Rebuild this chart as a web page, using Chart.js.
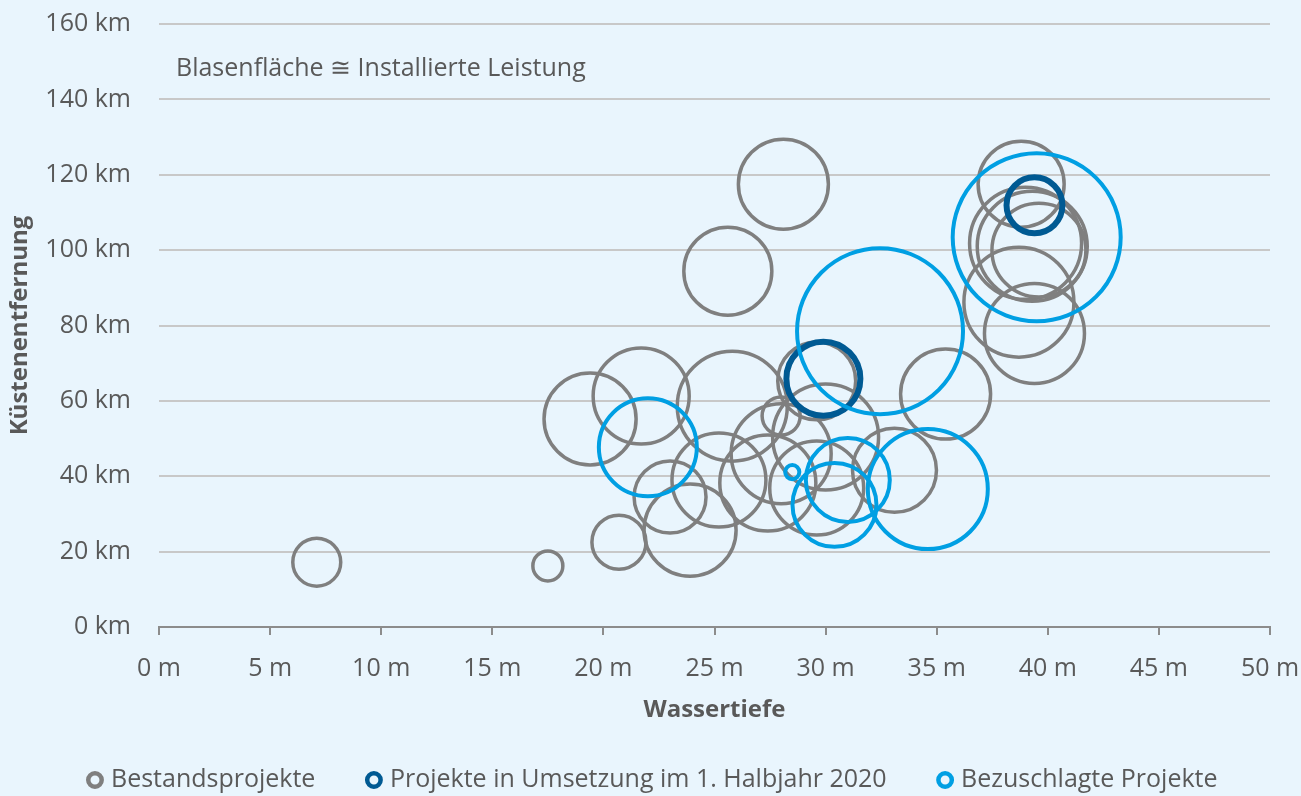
<!DOCTYPE html>
<html>
<head>
<meta charset="utf-8">
<script src="https://cdn.jsdelivr.net/npm/chart.js@4.4.1/dist/chart.umd.min.js"></script>
<style>
  html, body { margin: 0; padding: 0; background: #e9f5fd; }
  canvas { display: block; }
</style>
</head>
<body>
<canvas id="c" width="1301" height="796"></canvas>
<script>
// ---- Data (Wassertiefe in m, Küstenentfernung in km, Leistung in MW) ----
const seriesNames = ["Bestandsprojekte", "Projekte in Umsetzung im 1. Halbjahr 2020", "Bezuschlagte Projekte"];

const bestandDepth    = [7.1, 17.5, 20.7, 19.4, 21.7, 25.6, 28.1, 25.8, 23.9, 23.0, 25.2, 27.4, 28.0, 28.0, 29.6, 30.0, 29.6, 33.1, 35.4, 38.8, 39.0, 39.3, 39.6, 38.7, 39.4];
const bestandDistance = [17.2, 16.2, 22.5, 55.2, 61.3, 94.4, 117.5, 58.6, 25.7, 34.5, 39.0, 38.2, 46.0, 56.0, 65.3, 50.4, 36.9, 41.6, 61.8, 117.5, 101.8, 101.0, 100.0, 86.2, 77.9];
const bestandMW       = [92, 36, 117, 339, 369, 310, 324, 484, 339, 207, 353, 369, 400, 58, 243, 449, 353, 282, 324, 296, 502, 484, 353, 484, 400];

const umsetzungDepth    = [29.9, 39.4];
const umsetzungDistance = [65.9, 111.9];
const umsetzungMW       = [219, 125];

const zuschlagDepth    = [22.0, 32.45, 39.5, 34.6, 31.0, 30.4, 28.5];
const zuschlagDistance = [47.7, 78.5, 103.4, 36.6, 39.0, 32.4, 41.1];
const zuschlagMW       = [384, 1102, 1129, 576, 282, 282, 8];

const xTicks = [0, 5, 10, 15, 20, 25, 30, 35, 40, 45, 50];
const yTicks = [0, 20, 40, 60, 80, 100, 120, 140, 160];

// ---- Build chart ----
const BG = '#e9f5fd';
const TXT = '#595959';
const FONT = "'Open Sans', 'Noto Sans', sans-serif";
const K = 2.5; // bubble radius (px) per sqrt(MW): area ~ installed capacity

function pts(xs, ys, mw) {
  return xs.map((x, i) => ({ x: x, y: ys[i], r: K * Math.sqrt(mw[i]) }));
}

const colors = ['#7f7f7f', '#005a93', '#009fe3'];
const widths = [3.5, 6, 4];

const note = {
  id: 'note',
  afterDraw(chart) {
    const ctx = chart.ctx, a = chart.chartArea;
    ctx.save();
    ctx.font = "25px " + FONT;
    ctx.fillStyle = TXT;
    ctx.textBaseline = 'middle';
    ctx.textAlign = 'left';
    ctx.fillText('Blasenfläche ≅ Installierte Leistung', a.left + 17, a.top + 45);
    ctx.restore();
  }
};

const bgPlugin = {
  id: 'bg',
  beforeDraw(chart) {
    const ctx = chart.ctx;
    ctx.save();
    ctx.fillStyle = BG;
    ctx.fillRect(0, 0, chart.width, chart.height);
    ctx.restore();
  }
};

// fix the legend box height / position so it sits at the bottom like the original
const legendBox = {
  id: 'legendBox',
  beforeUpdate(chart) {
    const lg = chart.legend;
    if (lg && !lg._fixedFit) {
      const orig = lg.fit.bind(lg);
      lg.fit = function () { orig(); this.height = 83.5; };
      lg._fixedFit = true;
    }
  },
  afterLayout(chart) {
    const lg = chart.legend;
    if (lg) { lg.left += 19.5; lg.right += 19.5; }
  }
};

function noScalePadding(s) {
  s.paddingLeft = 0; s.paddingRight = 0; s.paddingTop = 0; s.paddingBottom = 0;
}

new Chart(document.getElementById('c'), {
  type: 'bubble',
  data: {
    datasets: [
      { label: seriesNames[0], data: pts(bestandDepth, bestandDistance, bestandMW),
        backgroundColor: 'rgba(0,0,0,0)', borderColor: colors[0], borderWidth: widths[0], order: 3 },
      { label: seriesNames[1], data: pts(umsetzungDepth, umsetzungDistance, umsetzungMW),
        backgroundColor: 'rgba(0,0,0,0)', borderColor: colors[1], borderWidth: widths[1], order: 2 },
      { label: seriesNames[2], data: pts(zuschlagDepth, zuschlagDistance, zuschlagMW),
        backgroundColor: 'rgba(0,0,0,0)', borderColor: colors[2], borderWidth: widths[2], order: 1 }
    ]
  },
  options: {
    responsive: false,
    devicePixelRatio: 1,
    animation: false,
    events: [],
    layout: { autoPadding: false, padding: { left: 0, right: 31, top: 24, bottom: 0 } },
    plugins: {
      tooltip: { enabled: false },
      legend: {
        position: 'bottom',
        labels: {
          usePointStyle: true,
          boxWidth: 7,
          boxHeight: 9.5,
          padding: 55,
          color: TXT,
          font: { family: FONT, size: 25 },
          generateLabels(chart) {
            return chart.data.datasets.map((ds, i) => ({
              text: ds.label,
              fillStyle: BG,
              strokeStyle: colors[i],
              lineWidth: 4.5,
              pointStyle: 'circle',
              fontColor: TXT,
              hidden: false,
              datasetIndex: i
            }));
          }
        }
      }
    },
    scales: {
      x: {
        type: 'linear',
        min: 0, max: 50,
        afterBuildTicks(s) { s.ticks = xTicks.map(v => ({ value: v })); },
        afterFit(s) { s.height = 85.5; noScalePadding(s); },
        ticks: {
          color: TXT, padding: 19, maxRotation: 0,
          font: { family: FONT, size: 25 },
          callback: v => v + ' m'
        },
        grid: { display: true, drawOnChartArea: false, drawTicks: true, tickLength: 8,
                color: '#8c8c8c', lineWidth: 2 },
        border: { display: true, color: '#8c8c8c', width: 2 },
        title: { display: true, text: 'Wassertiefe', color: TXT,
                 font: { family: FONT, size: 24, weight: 'bold', lineHeight: 1 },
                 padding: { top: 0, bottom: -9.5 } }
      },
      y: {
        type: 'linear',
        min: 0, max: 160,
        afterBuildTicks(s) { s.ticks = yTicks.map(v => ({ value: v })); },
        afterFit(s) { s.width = 159; noScalePadding(s); },
        ticks: {
          color: TXT, padding: 28,
          font: { family: FONT, size: 25 },
          callback: v => v + ' km'
        },
        grid: { color: '#c8c8c8', lineWidth: 2, drawTicks: false },
        border: { display: false },
        title: { display: true, text: 'Küstenentfernung', color: TXT,
                 font: { family: FONT, size: 24, weight: 'bold', lineHeight: 1 },
                 padding: { top: 8, bottom: 0 } }
      }
    }
  },
  plugins: [bgPlugin, legendBox, note]
});
</script>
</body>
</html>
